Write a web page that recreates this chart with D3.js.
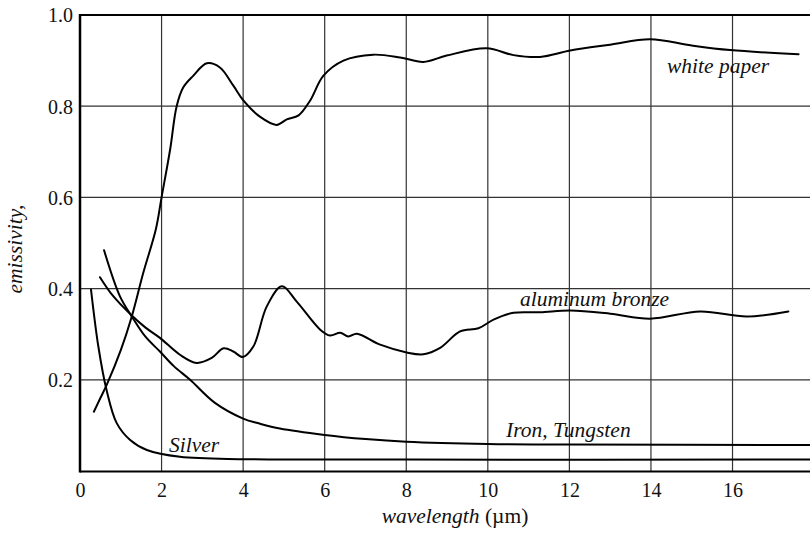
<!DOCTYPE html>
<html>
<head>
<meta charset="utf-8">
<script src="https://cdn.jsdelivr.net/npm/d3@7"></script>
<style>
  html, body { margin: 0; padding: 0; background: #fff; }
  svg { display: block; }
</style>
</head>
<body>
<svg id="chart" width="810" height="534"></svg>
<script>
// ---- data ----
const xTicks = [0, 2, 4, 6, 8, 10, 12, 14, 16];
const yTicks = [0.2, 0.4, 0.6, 0.8, 1.0];

const whitePaperX = [0.34, 0.50, 0.66, 1.00, 1.27, 1.55, 1.86, 2.00, 2.21, 2.37, 2.53, 2.78, 3.11, 3.43, 3.76, 4.01, 4.41, 4.82, 5.07, 5.36, 5.64, 5.97, 6.46, 7.19, 7.85, 8.42, 8.99, 9.97, 10.63, 11.28, 12.02, 13.00, 13.98, 15.00, 15.94, 17.62];
const whitePaperY = [0.130, 0.160, 0.190, 0.265, 0.339, 0.434, 0.530, 0.600, 0.705, 0.800, 0.841, 0.867, 0.894, 0.885, 0.845, 0.812, 0.777, 0.759, 0.771, 0.780, 0.812, 0.867, 0.900, 0.913, 0.907, 0.897, 0.911, 0.927, 0.912, 0.908, 0.922, 0.935, 0.947, 0.933, 0.923, 0.914];

const bronzeX = [0.49, 0.80, 1.27, 1.60, 1.96, 2.45, 2.86, 3.23, 3.52, 3.76, 3.99, 4.25, 4.58, 4.95, 5.31, 5.89, 6.13, 6.38, 6.58, 6.79, 7.36, 8.01, 8.42, 8.83, 9.32, 9.77, 10.14, 10.63, 11.28, 12.02, 13.00, 13.98, 15.21, 16.35, 17.37];
const bronzeY = [0.425, 0.385, 0.341, 0.315, 0.292, 0.255, 0.237, 0.248, 0.269, 0.262, 0.250, 0.273, 0.361, 0.405, 0.372, 0.310, 0.297, 0.303, 0.295, 0.301, 0.277, 0.260, 0.256, 0.270, 0.306, 0.313, 0.332, 0.347, 0.348, 0.352, 0.345, 0.334, 0.350, 0.339, 0.350];

const ironX = [0.59, 0.98, 1.27, 1.60, 1.96, 2.30, 2.70, 3.30, 4.00, 4.40, 4.90, 6.00, 7.00, 8.00, 10.00, 12.00, 17.90];
const ironY = [0.484, 0.383, 0.339, 0.295, 0.262, 0.230, 0.200, 0.150, 0.115, 0.104, 0.093, 0.079, 0.070, 0.064, 0.059, 0.058, 0.057];

const silverX = [0.27, 0.45, 0.65, 0.90, 1.23, 1.64, 2.45, 4.09, 8.00, 17.90];
const silverY = [0.398, 0.273, 0.178, 0.105, 0.068, 0.046, 0.031, 0.026, 0.025, 0.025];

const seriesNames = ["white paper", "aluminum bronze", "Iron, Tungsten", "Silver"];

// ---- layout ----
const FONT = "Liberation Serif";
const svg = d3.select("#chart");
const mLeft = 80, mRight = 810, mTop = 15, mBottom = 471;
const x = d3.scaleLinear().domain([0, 17.9]).range([mLeft, mRight]);
const y = d3.scaleLinear().domain([0, 1.0]).range([mBottom, mTop]);

// grid
const grid = svg.append("g").attr("stroke", "#333").attr("stroke-width", 1.2);
grid.selectAll("line.v").data(xTicks.filter(d => d > 0)).join("line").attr("class", "v")
  .attr("x1", d => x(d)).attr("x2", d => x(d)).attr("y1", mTop).attr("y2", mBottom);
grid.selectAll("line.h").data(yTicks.filter(d => d < 1)).join("line").attr("class", "h")
  .attr("x1", mLeft).attr("x2", mRight).attr("y1", d => y(d)).attr("y2", d => y(d));

// axes (labels only)
const xAxis = svg.append("g").attr("transform", `translate(0,${mBottom})`)
  .call(d3.axisBottom(x).tickValues(xTicks).tickFormat(d3.format("d")).tickSize(0));
xAxis.attr("font-family", FONT).attr("font-size", 20);
xAxis.select(".domain").remove();
xAxis.selectAll("text").attr("y", 26).attr("dy", 0).style("font-size", "20px")
  .style("font-family", FONT).attr("fill", "#111");

const yAxis = svg.append("g").attr("transform", `translate(${mLeft},0)`)
  .call(d3.axisLeft(y).tickValues(yTicks).tickFormat(d3.format(".1f")).tickSize(0));
yAxis.attr("font-family", FONT).attr("font-size", 20);
yAxis.select(".domain").remove();
yAxis.selectAll("text").attr("x", -7).attr("dy", "0.34em").style("font-size", "20px")
  .style("font-family", FONT).attr("fill", "#111");

// frame
const frame = svg.append("g").attr("stroke", "#000");
frame.append("line").attr("x1", mLeft).attr("x2", mLeft).attr("y1", mTop - 1).attr("y2", mBottom + 1.5).attr("stroke-width", 2.5);
frame.append("line").attr("x1", mLeft).attr("x2", mRight).attr("y1", mTop).attr("y2", mTop).attr("stroke-width", 2);
frame.append("line").attr("x1", mLeft).attr("x2", mRight).attr("y1", mBottom + 0.5).attr("y2", mBottom + 0.5).attr("stroke-width", 2);

// curves
const line = d3.line().x(d => x(d[0])).y(d => y(d[1])).curve(d3.curveCatmullRom.alpha(0.5));
const zip = (a, b) => a.map((v, i) => [v, b[i]]);
const series = [zip(whitePaperX, whitePaperY), zip(bronzeX, bronzeY), zip(ironX, ironY), zip(silverX, silverY)];
svg.append("g").selectAll("path").data(series).join("path")
  .attr("d", line).attr("fill", "none").attr("stroke", "#000").attr("stroke-width", 2)
  .attr("stroke-linejoin", "round").attr("stroke-linecap", "round");

// curve labels
const labelPos = [
  { x: 667, y: 73 },
  { x: 520, y: 306 },
  { x: 506, y: 437 },
  { x: 169, y: 452 }
];
svg.append("g").selectAll("text").data(seriesNames).join("text")
  .attr("x", (d, i) => labelPos[i].x).attr("y", (d, i) => labelPos[i].y)
  .style("font-family", FONT).style("font-size", "21.5px").style("font-style", "italic")
  .attr("fill", "#111").text(d => d);

// axis titles
const xt = svg.append("text").attr("x", 455).attr("y", 523).attr("text-anchor", "middle")
  .style("font-family", FONT).style("font-size", "21.5px").attr("fill", "#111");
xt.append("tspan").style("font-style", "italic").text("wavelength");
xt.append("tspan").text(" (\u00b5m)");

svg.append("text").attr("transform", "translate(22,249) rotate(-90)").attr("text-anchor", "middle")
  .style("font-family", FONT).style("font-size", "21.5px").style("font-style", "italic")
  .attr("fill", "#111").text("emissivity,");
</script>
</body>
</html>
